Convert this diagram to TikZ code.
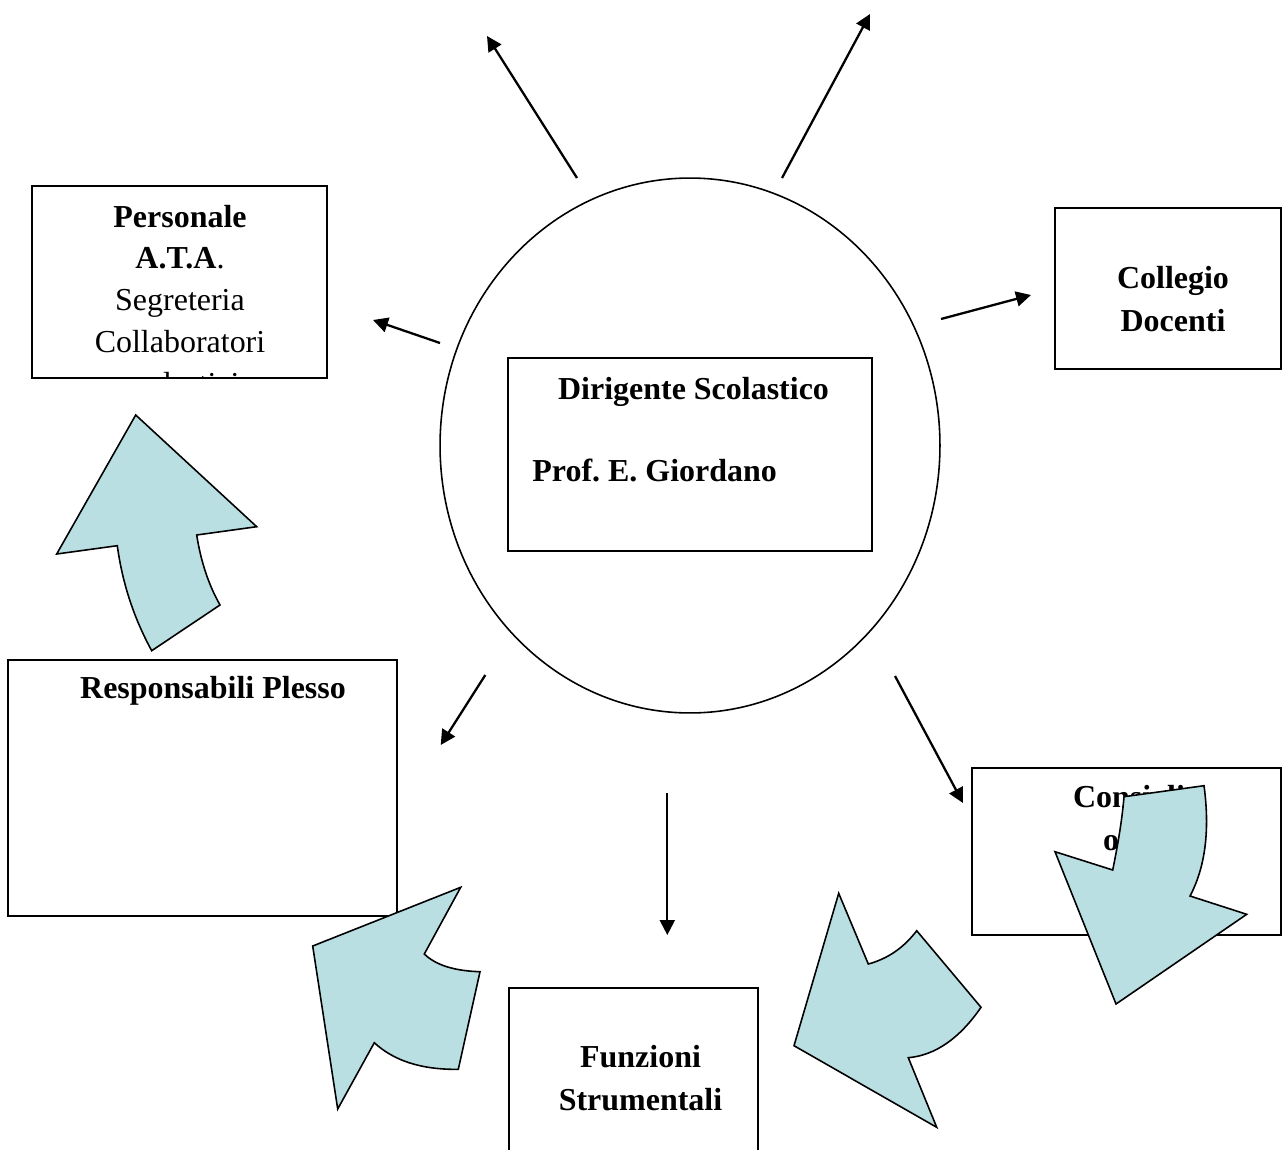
\documentclass[tikz,border=0pt]{standalone}
\usepackage{fontspec}
\setmainfont{Liberation Serif}
\usetikzlibrary{arrows.meta, shapes.geometric}
\definecolor{arrowblue}{RGB}{185,223,227}
\frenchspacing
\tikzstyle{org_box} = [
    rectangle, 
    draw=black, 
    line width=1pt, 
    anchor=north west, 
    inner sep=0pt, 
    outer sep=0pt
]
\tikzstyle{org_text} = [
    inner sep=0pt, 
    anchor=base, 
    font=\fontsize{18.2pt}{23.9pt}\selectfont
]
\tikzstyle{bold_text} = [
    org_text, 
    font=\fontsize{18.2pt}{23.9pt}\selectfont\bfseries
]
\tikzstyle{link} = [
    line width=1.3pt, 
    -{Triangle[length=8.5pt, width=8.5pt]}
]
\tikzstyle{block_arrow} = [
    draw=black, 
    fill=arrowblue, 
    line width=0.9pt, 
    line join=miter
]

\begin{document}
\begin{tikzpicture}[x=0.02cm, y=-0.02cm]
\useasboundingbox (0,0) rectangle (1283,1149);

% centre
\node [ellipse, draw=black, line width=0.9pt, inner sep=0pt,
    minimum width=10cm, minimum height=10.7cm] (ring) at (690,445.5) {};
\node [org_box, minimum width=7.28cm, minimum height=3.86cm] (dirigente) at (508,358) {};
\node [bold_text] (dirigente_t1) at (693.5,399) {Dirigente Scolastico};
\node [bold_text, anchor=base west] (dirigente_t2) at (532,481) {Prof. E. Giordano};

% boxes
\node [org_box, minimum width=5.9cm, minimum height=3.84cm] (personale) at (32,186) {};
\begin{scope}
    \clip (32,186) rectangle (327,378);
    \node [bold_text] (personale_t1) at (180,227) {Personale};
    \node [org_text] (personale_t2) at (180,268) {\textbf{A.T.A}.};
    \node [org_text] (personale_t3) at (180,310) {Segreteria};
    \node [org_text] (personale_t4) at (180,352) {Collaboratori};
    \node [org_text] (personale_t5) at (180,394) {scolastici};
\end{scope}

\node [org_box, minimum width=4.52cm, minimum height=3.22cm] (collegio) at (1055,208) {};
\node [bold_text] (collegio_t1) at (1173,288) {Collegio};
\node [bold_text] (collegio_t2) at (1173,331) {Docenti};

\node [org_box, minimum width=7.78cm, minimum height=5.12cm] (responsabili) at (8,660) {};
\node [bold_text] (responsabili_t1) at (213,698) {Responsabili Plesso};

\node [org_box, minimum width=6.18cm, minimum height=3.34cm] (consigli) at (972,768) {};
\node [bold_text, anchor=base west] (consigli_t1) at (1072.7,807) {Consigli};
\node [bold_text, anchor=base west] (consigli_t2) at (1102.7,850) {ogni};

\node [org_box, minimum width=4.98cm, minimum height=3.64cm] (funzioni) at (509,988) {};
\node [bold_text] (funzioni_t1) at (640.5,1067) {Funzioni};
\node [bold_text] (funzioni_t2) at (640.5,1110) {Strumentali};

% arrow ends
\coordinate (up_left_from) at (577,178);
\coordinate (up_left_to) at (487,36);
\coordinate (up_right_from) at (782,178);
\coordinate (up_right_to) at (870,14);
\coordinate (ata_from) at (440,343);
\coordinate (ata_to) at (373,320);
\coordinate (collegio_from) at (941,319);
\coordinate (collegio_to) at (1031,295);
\coordinate (plesso_from) at (485.3,675);
\coordinate (plesso_to) at (440.7,745);
\coordinate (funzioni_from) at (667.3,793);
\coordinate (funzioni_to) at (667.3,935);
\coordinate (consigli_from) at (895,676);
\coordinate (consigli_to) at (963,803);

\draw [link] (up_left_from) -- (up_left_to);
\draw [link] (up_right_from) -- (up_right_to);
\draw [link] (ata_from) -- (ata_to);
\draw [link] (collegio_from) -- (collegio_to);
\draw [link] (plesso_from) -- (plesso_to);
\draw [link] (funzioni_from) -- (funzioni_to);
\draw [link] (consigli_from) -- (consigli_to);

% curved block arrows
\draw [block_arrow] (135.7,415) -- (256.7,526.7) -- (196.7,535)
    .. controls (200.9,561.7) and (208.7,585) .. (220,605) -- (151.7,650.7)
    .. controls (133.9,618.2) and (122.4,583.2) .. (117.3,545.7) -- (56.7,554) -- cycle;
\draw [block_arrow] (460.7,887.3) -- (424.3,954)
    .. controls (435.6,965) and (454.1,970.9) .. (480,971.7) -- (458.3,1069.3)
    .. controls (421.9,1069.8) and (393.9,1060.9) .. (374.3,1042.7) -- (337.7,1109) -- (312.7,946) -- cycle;
\draw [block_arrow] (838.7,893.3) -- (868.3,964)
    .. controls (887.8,958.7) and (903.9,947.6) .. (916.7,930.7) -- (981,1007.3)
    .. controls (959.5,1038.5) and (935.2,1055.3) .. (908.3,1057.7) -- (936.7,1127.3) -- (794,1045.7) -- cycle;
\draw [block_arrow] (1124,796.7) -- (1204,785.7)
    .. controls (1210,830.2) and (1205.3,867) .. (1190,896) -- (1246.7,914.3) -- (1116,1004)
    -- (1055,851.7) -- (1112.7,870) .. controls (1118.6,841.1) and (1122.4,816.6) .. (1124,796.7);
\end{tikzpicture}
\end{document}
